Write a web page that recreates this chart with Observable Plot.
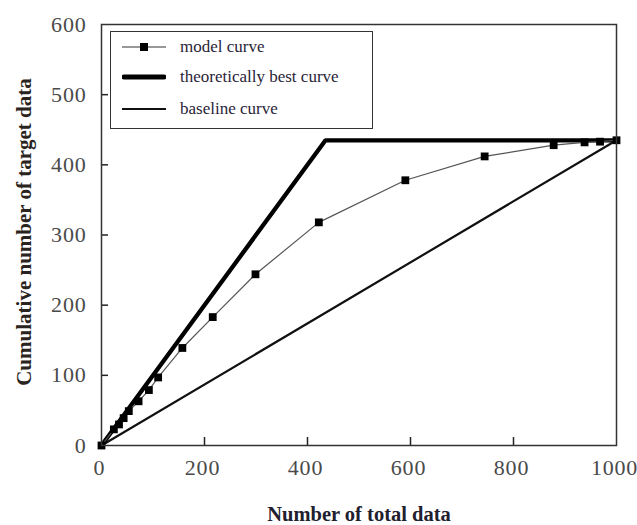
<!DOCTYPE html>
<html>
<head>
<meta charset="utf-8">
<script src="https://cdn.jsdelivr.net/npm/d3@7"></script>
<script src="https://cdn.jsdelivr.net/npm/@observablehq/plot@0.6"></script>
<style>
  html, body { margin: 0; padding: 0; background: #fff; }
  #wrap { position: relative; width: 637px; height: 525px; }
  #legend { position: absolute; left: 110px; top: 31px; width: 263px; height: 98px;
    border: 1.5px solid #333; background: #fff; box-sizing: border-box;
    font-family: "Liberation Serif", "Times New Roman", serif; font-size: 17px; color: #2a2438; }
  .row { position: absolute; left: 0; height: 20px; display: flex; align-items: center; }
  .row svg { margin-left: 11px; margin-right: 14px; }
  .ticklbl text { letter-spacing: 0.8px; }
</style>
</head>
<body>
<div id="wrap"></div>
<script>
// ---- data ----
const modelX = [0, 24, 34, 43, 53, 72, 92, 110, 157, 216, 299, 422, 590, 744, 878, 938, 968, 1000];
const modelY = [0, 23, 30, 39, 49, 63, 79, 97, 139, 183, 244, 318, 378, 412, 428, 432, 433, 435];
const bestX = [0, 435, 1000];
const bestY = [0, 435, 435];
const baseX = [0, 1000];
const baseY = [0, 435];
const xTicks = [0, 200, 400, 600, 800, 1000];
const yTicks = [0, 100, 200, 300, 400, 500, 600];
const seriesNames = ["model curve", "theoretically best curve", "baseline curve"];
const xTitle = "Number of total data";
const yTitle = "Cumulative number of target data";

const model = modelX.map((x, i) => ({x, y: modelY[i]}));
const best = bestX.map((x, i) => ({x, y: bestY[i]}));
const base = baseX.map((x, i) => ({x, y: baseY[i]}));

const W = 637, H = 525;
const mL = 101, mR = 21, mT = 24, mB = 80;
const plotW = W - mL - mR, plotH = H - mT - mB;

const tickFont = {fontFamily: "Liberation Serif, serif", fontSize: 22, fill: "#4a4a4a", className: "ticklbl"};
const fmt = d3.format("d");

const chart = Plot.plot({
  width: W, height: H,
  marginLeft: mL, marginRight: mR, marginTop: mT, marginBottom: mB,
  x: {domain: [0, 1000]},
  y: {domain: [0, 600]},
  style: {background: "#fff", overflow: "visible"},
  marks: [
    Plot.axisX(xTicks, {tickSize: 0, tickPadding: 14, tickFormat: fmt, label: null, ...tickFont, color: "#4a4a4a", dx: -2}),
    Plot.axisY(yTicks, {tickSize: 0, tickPadding: 15, tickFormat: fmt, label: null, ...tickFont, color: "#4a4a4a"}),
    Plot.tickX(xTicks.slice(1, -1), {x: d => d, insetTop: plotH - 8, stroke: "#222", strokeWidth: 1.5}),
    Plot.tickY(yTicks.slice(1, -1), {y: d => d, insetRight: plotW - 7, stroke: "#222", strokeWidth: 1.5}),
    Plot.line(base, {x: "x", y: "y", stroke: "#111", strokeWidth: 2.2}),
    Plot.line(best, {x: "x", y: "y", stroke: "#000", strokeWidth: 4.3, strokeLinejoin: "miter"}),
    Plot.line(model, {x: "x", y: "y", stroke: "#555", strokeWidth: 1.2}),
    Plot.dot(model, {x: "x", y: "y", symbol: "square", r: 4.4, fill: "#000", stroke: "none"}),
    Plot.frame({stroke: "#333", strokeWidth: 1.5}),
    Plot.text([xTitle], {frameAnchor: "bottom", dy: 69, lineAnchor: "middle", textAnchor: "middle",
      fontFamily: "Liberation Serif, serif", fontWeight: "bold", fontSize: 20.5, fill: "#22202e"}),
    Plot.text([yTitle], {frameAnchor: "left", dx: -77, dy: -3, rotate: -90, lineAnchor: "middle", textAnchor: "middle",
      fontFamily: "Liberation Serif, serif", fontWeight: "bold", fontSize: 21, fill: "#2a2420"})
  ]
});

const wrap = document.getElementById("wrap");
wrap.appendChild(chart);

// legend overlay
const legend = document.createElement("div");
legend.id = "legend";
const samples = [
  `<svg width="44" height="12"><line x1="0" y1="6" x2="44" y2="6" stroke="#333" stroke-width="1.2"/><rect x="18" y="2" width="8" height="8" fill="#000"/></svg>`,
  `<svg width="44" height="12"><line x1="2" y1="6" x2="42" y2="6" stroke="#000" stroke-width="5" stroke-linecap="round"/></svg>`,
  `<svg width="44" height="12"><line x1="0" y1="6" x2="44" y2="6" stroke="#111" stroke-width="2"/></svg>`
];
const rowTops = [5, 35, 67];
seriesNames.forEach((name, i) => {
  const r = document.createElement("div");
  r.className = "row";
  r.style.top = rowTops[i] + "px";
  r.innerHTML = samples[i] + `<span>${name}</span>`;
  legend.appendChild(r);
});
wrap.appendChild(legend);
</script>
</body>
</html>
